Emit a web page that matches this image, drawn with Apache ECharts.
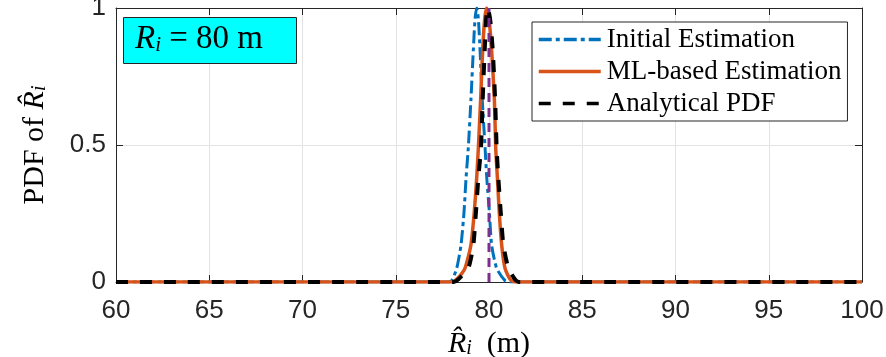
<!DOCTYPE html>
<html>
<head>
<meta charset="utf-8">
<script src="https://cdn.jsdelivr.net/npm/echarts@6/dist/echarts.min.js"></script>
<style>
html,body{margin:0;padding:0;background:#fff;}
#c{width:886px;height:357px;}
</style>
</head>
<body>
<div id="c"></div>
<script>
// ---- data ----
const seriesNames = ['Initial Estimation', 'ML-based Estimation', 'Analytical PDF'];
const xTicks = [60, 65, 70, 75, 80, 85, 90, 95, 100];
const yTicks = [0, 0.5, 1];

const initialX = [60, 77.8, 78.0, 78.27, 78.5, 78.66, 78.77, 78.89, 79.03, 79.16, 79.25, 79.34, 79.43, 79.52, 79.64, 79.79, 79.88, 80.02, 80.14, 80.41, 80.86, 81.1, 100];
const initialY = [0, 0, 0.005, 0.05, 0.135, 0.255, 0.38, 0.49, 0.664, 0.847, 0.96, 1.0, 0.96, 0.847, 0.664, 0.49, 0.38, 0.255, 0.135, 0.05, 0.005, 0, 0];

const mlX = [60, 78.0, 78.27, 78.71, 79.03, 79.21, 79.34, 79.43, 79.55, 79.66, 79.77, 79.87, 80.0, 80.14, 80.29, 80.36, 80.45, 80.55, 80.68, 80.86, 81.13, 81.4, 100];
const mlY = [0, 0, 0.01, 0.05, 0.135, 0.255, 0.38, 0.49, 0.664, 0.847, 0.96, 1.0, 0.96, 0.847, 0.664, 0.49, 0.38, 0.255, 0.135, 0.05, 0.01, 0, 0];

const analyticX = [60, 78.1, 78.36, 78.89, 79.16, 79.30, 79.43, 79.57, 79.66, 79.77, 79.85, 79.93, 80.06, 80.2, 80.33, 80.41, 80.5, 80.63, 80.77, 81.04, 81.39, 81.6, 100];
const analyticY = [0, 0, 0.01, 0.05, 0.135, 0.255, 0.38, 0.49, 0.664, 0.847, 0.96, 1.0, 0.96, 0.847, 0.664, 0.49, 0.38, 0.255, 0.135, 0.05, 0.01, 0, 0];

const trueX = [80, 80];
const trueY = [0, 1];

const zip = (xs, ys) => xs.map((x, i) => [x, ys[i]]);

const serif = '"Liberation Serif", "DejaVu Serif", serif';
const sans = '"Liberation Sans", Arial, sans-serif';
const tickColor = '#262626';

const chart = echarts.init(document.getElementById('c'), null, {renderer: 'canvas'});

const nameRich = {
  it: {fontFamily: serif, fontStyle: 'italic', fontSize: 30, color: '#000'},
  sub: {fontFamily: serif, fontStyle: 'italic', fontSize: 20, color: '#000', lineHeight: 12, verticalAlign: 'bottom'},
  n: {fontFamily: serif, fontSize: 30, color: '#000'}
};

const baseAxis = {
  type: 'value',
  axisLine: {show: true, onZero: false, lineStyle: {color: tickColor, width: 1}},
  axisTick: {show: true, inside: true, length: 7, lineStyle: {color: tickColor}},
};

const option = {
  animation: false,
  backgroundColor: '#fff',
  grid: {left: 116, right: 24, top: 8, bottom: 75, containLabel: false, outerBoundsMode: 'none'},
  xAxis: [
    Object.assign({}, baseAxis, {
      min: 60, max: 100, interval: 5, position: 'bottom',
      axisLabel: {fontFamily: sans, fontSize: 26, color: tickColor, margin: 16},
      splitLine: {show: true, lineStyle: {color: '#e3e3e3', width: 1}},
      name: '{it|R̂}{sub|i}{n|  (m)}',
      nameLocation: 'middle', nameGap: 44,
      nameTextStyle: {rich: nameRich}
    }),
    Object.assign({}, baseAxis, {
      min: 60, max: 100, interval: 5, position: 'top',
      axisLabel: {show: false}, splitLine: {show: false}
    })
  ],
  yAxis: [
    Object.assign({}, baseAxis, {
      min: 0, max: 1, interval: 0.5, position: 'left',
      axisLabel: {fontFamily: sans, fontSize: 26, color: tickColor, margin: 10,
        formatter: v => String(v)},
      splitLine: {show: true, lineStyle: {color: '#e3e3e3', width: 1}},
      name: '{n|PDF of }{it|R̂}{sub|i}',
      nameLocation: 'middle', nameGap: 66,
      nameTextStyle: {rich: nameRich}
    }),
    Object.assign({}, baseAxis, {
      min: 0, max: 1, interval: 0.5, position: 'right',
      axisLabel: {show: false}, splitLine: {show: false}
    })
  ],
  legend: {
    data: seriesNames,
    orient: 'vertical',
    left: 532, top: 22,
    padding: [4, 6, 4, 5],
    itemWidth: 62, itemHeight: 14, itemGap: 5,
    backgroundColor: '#fff',
    borderColor: '#262626', borderWidth: 1, borderRadius: 0,
    itemStyle: {opacity: 0},
    lineStyle: {width: 3.5},
    textStyle: {fontFamily: serif, fontSize: 27, lineHeight: 24, color: '#000', padding: [0, 0, 0, 1]}
  },
  graphic: [
    {
      type: 'rect', left: 123, top: 17, z: 10,
      shape: {width: 173, height: 46},
      style: {fill: '#00FFFF', stroke: '#262626', lineWidth: 1}
    },
    {
      type: 'text', left: 135, top: 23, z: 11,
      style: {
        text: '{it|R}{sub|i}{n| = 80 m}',
        rich: {
          it: {fontFamily: serif, fontStyle: 'italic', fontSize: 33, fill: '#000'},
          sub: {fontFamily: serif, fontStyle: 'italic', fontSize: 21, fill: '#000', lineHeight: 14, verticalAlign: 'bottom'},
          n: {fontFamily: serif, fontSize: 33, fill: '#000'}
        }
      }
    }
  ],
  series: [
    {
      name: seriesNames[0], type: 'line', data: zip(initialX, initialY),
      symbol: 'none', smooth: 0.2, color: '#0072BD', z: 2,
      lineStyle: {width: 3, type: [13, 4, 4, 4], color: '#0072BD'}
    },
    {
      name: seriesNames[1], type: 'line', data: zip(mlX, mlY),
      symbol: 'none', smooth: 0.2, color: '#D95319', z: 3,
      lineStyle: {width: 3.5, type: 'solid', color: '#D95319'}
    },
    {
      name: seriesNames[2], type: 'line', data: zip(analyticX, analyticY),
      symbol: 'none', smooth: 0.2, color: '#000', z: 4,
      lineStyle: {width: 4, type: [12, 12], color: '#000'}
    },
    {
      name: 'True', type: 'line', data: zip(trueX, trueY),
      symbol: 'none', color: '#7E2F8E', z: 5,
      lineStyle: {width: 3, type: [9, 6], color: '#7E2F8E'}
    }
  ]
};
chart.setOption(option);
</script>
</body>
</html>
